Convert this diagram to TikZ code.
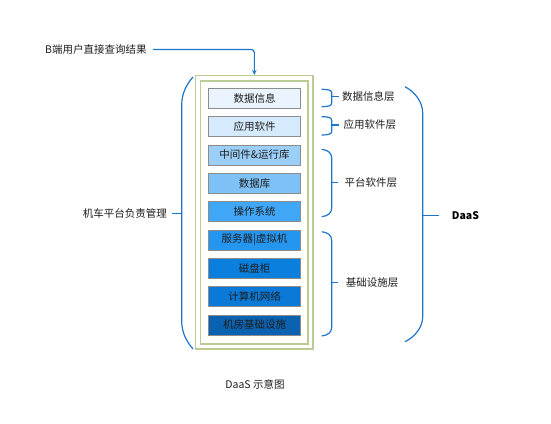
\documentclass[tikz,border=0pt]{standalone}
\usepackage{fontspec}
\setmainfont{Noto Sans CJK SC}
\usetikzlibrary{arrows.meta}
\definecolor{lineblue}{RGB}{30,118,204}
\definecolor{frgreen}{RGB}{186,204,145}
\definecolor{txt}{RGB}{30,30,30}
\definecolor{c1}{RGB}{234,244,254}
\definecolor{c2}{RGB}{213,234,252}
\definecolor{c3}{RGB}{156,207,248}
\definecolor{c4}{RGB}{126,193,246}
\definecolor{c5}{RGB}{64,167,247}
\definecolor{c6}{RGB}{37,150,240}
\definecolor{c7}{RGB}{10,127,221}
\definecolor{c8}{RGB}{10,121,216}
\definecolor{c9}{RGB}{10,98,176}
\tikzset{
  layerbox/.style={draw=black!45, line width=0.8pt, minimum width=92pt, minimum height=20pt, inner sep=0pt, font=\fontsize{10.5}{12}\selectfont, text=txt},
  lbl/.style={inner sep=0pt, font=\fontsize{10.5}{12}\selectfont, text=txt},
  brace/.style={draw=lineblue, line width=1.2pt},
  frame/.style={draw=frgreen, line width=1.5pt, inner sep=0pt}
}
\begin{document}
\begin{tikzpicture}[x=1pt,y=-1pt]
\useasboundingbox[fill=white] (0,0) rectangle (551,423);
% frames
\node[frame, minimum width=117.3pt, minimum height=273.3pt] (outer) at (254.35,212.35) {};
\node[frame, minimum width=107.3pt, minimum height=263pt] (inner) at (254.35,212.5) {};
% layer boxes
\node[layerbox, fill=c1] (b1) at (254.5,98.3) {数据信息};
\node[layerbox, fill=c2] (b2) at (254.5,126.7) {应用软件};
\node[layerbox, fill=c3] (b3) at (254.5,155) {中间件\&运行库};
\node[layerbox, fill=c4] (b4) at (254.5,183.3) {数据库};
\node[layerbox, fill=c5] (b5) at (254.5,211.7) {操作系统};
\node[layerbox, fill=c6] (b6) at (254.5,240) {服务器|虚拟机};
\node[layerbox, fill=c7] (b7) at (254.5,268.3) {磁盘柜};
\node[layerbox, fill=c8] (b8) at (254.5,296.7) {计算机网络};
\node[layerbox, fill=c9] (b9) at (254.5,325) {机房基础设施};
% top label and arrow
\node[lbl, anchor=west] (src) at (45,49.5) {B端用户直接查询结果};
\draw[draw=lineblue, line width=1.2pt, rounded corners=3pt, -{Stealth[length=5pt,width=4.5pt]}] (src.east) ++(6,0) -| (outer.north);
% left label and brace
\node[lbl, anchor=east] (mgr) at (167,213.3) {机车平台负责管理};
\draw[brace] (193,77) .. controls (186,85) and (181.7,94) .. (181.7,105) -- (181.7,321) .. controls (181.7,332) and (186,341) .. (193,349);
\coordinate (lt) at (181.7,213.3);
\draw[brace] (lt) -- (mgr.east -| 171.5,0);
% right small braces
\node[lbl, anchor=west] (r1) at (342,96.7) {数据信息层};
\draw[brace] (321.7,89.3) .. controls (328,89.3) and (331.7,90) .. (331.7,93) -- (331.7,103) .. controls (331.7,106) and (328,106.7) .. (321.7,106.7);
\draw[brace] (331.7,96.7) -- (339.3,96.7);
\node[lbl, anchor=west] (r2) at (343.3,125) {应用软件层};
\draw[brace] (321.7,116.7) .. controls (328,116.7) and (331.7,117.4) .. (331.7,120.4) -- (331.7,131.3) .. controls (331.7,134.3) and (328,135) .. (321.7,135);
\draw[brace] (331.7,125) -- (339.3,125);
\node[lbl, anchor=west] (r3) at (344.3,182.7) {平台软件层};
\draw[brace] (321.7,149.3) .. controls (328,150) and (331.7,153) .. (331.7,158) -- (331.7,208) .. controls (331.7,213) and (328,216) .. (321.7,216.7);
\draw[brace] (331.7,182.7) -- (338.3,182.7);
\node[lbl, anchor=west] (r4) at (345.7,282.7) {基础设施层};
\draw[brace] (321.7,231.7) .. controls (328,232.4) and (331.7,235.4) .. (331.7,240.4) -- (331.7,327.3) .. controls (331.7,332.3) and (328,335.3) .. (321.7,336);
\draw[brace] (331.7,282.7) -- (338.3,282.7);
% right big brace
\node[lbl, anchor=west, font=\fontsize{10.5}{12}\selectfont\bfseries, text=black] (daas) at (451.7,215.7) {DaaS};
\draw[brace] (405,86.7) .. controls (415,92) and (422.7,102) .. (422.7,113) -- (422.7,316.7) .. controls (422.7,327) and (415,337) .. (405,341.7);
\draw[brace] (422.7,215.7) -- (439.3,215.7);
% caption
\node[lbl] (cap) at (255,384) {DaaS 示意图};
\end{tikzpicture}
\end{document}
